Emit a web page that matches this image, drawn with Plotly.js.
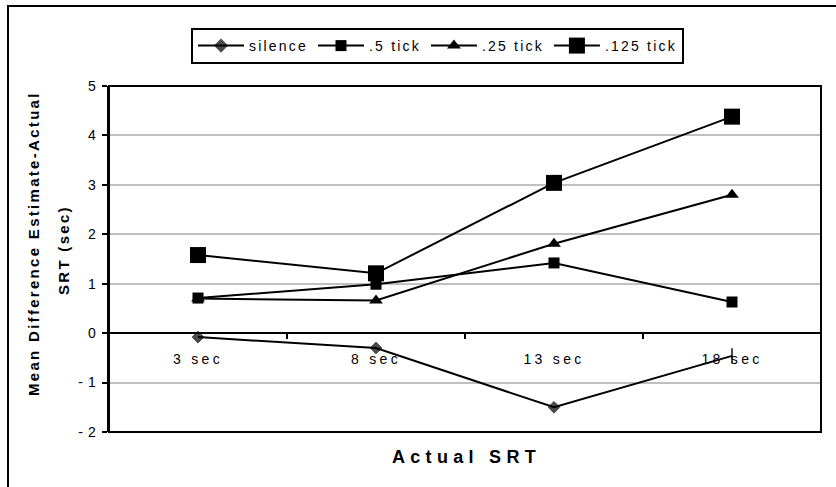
<!DOCTYPE html>
<html>
<head>
<meta charset="utf-8">
<script src="https://cdn.plot.ly/plotly-3.0.1.min.js"></script>
<style>
  html, body { margin: 0; padding: 0; background: #fff; overflow: hidden; }
  #wrap { position: relative; width: 836px; height: 487px; overflow: hidden; }
  #chart { width: 836px; height: 487px; }
  /* chart area border: only its top and left edges fall inside the page */
  #frame { position: absolute; left: 7px; top: 5px; width: 900px; height: 600px;
           border-left: 2px solid #000; border-top: 2px solid #000; pointer-events: none; }
  .xtick text { letter-spacing: 3.3px; }
  .ytick text { letter-spacing: 0.5px; }
  .legendtext { letter-spacing: 2.2px; }
  .annotation-text { letter-spacing: 2.3px; }
  .xtitle-ann .annotation-text { letter-spacing: 5.3px; }
</style>
</head>
<body>
<div id="wrap"><div id="chart"></div><div id="frame"></div></div>
<script>
// Categories along the x axis
const categories = ['3 sec', '8 sec', '13 sec', '18 sec'];

// Mean difference (estimate - actual), seconds
const silence  = [-0.08, -0.30, -1.50, -0.46];
const tick05   = [0.71, 0.99, 1.42, 0.63];
const tick025  = [0.70, 0.66, 1.81, 2.80];
const tick0125 = [1.58, 1.21, 3.04, 4.38];

const seriesNames = ['silence', '.5 tick', '.25 tick', '.125 tick'];

// Y axis ticks
const yRange = [-2, 5];
const yTickVals = [-2, -1, 0, 1, 2, 3, 4, 5];
const yTickText = ['- 2', '- 1', '0', '1', '2', '3', '4', '5'];

const FONT = 'Liberation Sans, Arial, sans-serif';
const lineStyle = { color: '#000', width: 2 };

const traces = [
  {
    x: categories, y: silence, name: seriesNames[0], type: 'scatter', mode: 'lines+markers',
    line: lineStyle,
    marker: { symbol: ['diamond', 'diamond', 'diamond', 'line-ns'], size: [9, 9, 9, 11], color: '#000',
              line: { color: '#000', width: [1, 1, 1, 2] } }
  },
  {
    x: categories, y: tick05, name: seriesNames[1], type: 'scatter', mode: 'lines+markers',
    line: lineStyle,
    marker: { symbol: 'square', size: 11, color: '#000' }
  },
  {
    x: categories, y: tick025, name: seriesNames[2], type: 'scatter', mode: 'lines+markers',
    line: lineStyle,
    marker: { symbol: 'triangle-up', size: 12, color: '#000' }
  },
  {
    x: categories, y: tick0125, name: seriesNames[3], type: 'scatter', mode: 'lines+markers',
    line: lineStyle,
    marker: { symbol: 'square', size: 16, color: '#000' }
  }
];

const plotL = 109, plotR = 821, plotT = 86, plotB = 432;
const W = 836, H = 487;
const pw = plotR - plotL, ph = plotB - plotT;
const px = v => (v - plotL) / pw;          // pixel x -> paper x
const py = v => (plotB - v) / ph;          // pixel y -> paper y

const layout = {
  width: W, height: H,
  margin: { l: plotL, r: W - plotR, t: plotT, b: H - plotB, pad: 0 },
  paper_bgcolor: '#fff', plot_bgcolor: '#fff',
  font: { family: FONT, color: '#000', size: 13 },
  showlegend: true,
  legend: {
    orientation: 'h', x: px(191), y: py(28), xanchor: 'left', yanchor: 'top',
    bgcolor: '#fff', bordercolor: '#000', borderwidth: 2, itemwidth: 46,
    font: { family: FONT, size: 14, color: '#000' }, traceorder: 'normal'
  },
  xaxis: {
    type: 'category', range: [-0.5, 3.5],
    anchor: 'free', position: (0 - yRange[0]) / (yRange[1] - yRange[0]),
    showline: true, linecolor: '#000', linewidth: 2,
    ticks: 'outside', tickson: 'boundaries', ticklen: 5, tickwidth: 2, tickcolor: '#000',
    showgrid: false, zeroline: false, ticklabelstandoff: 13,
    tickfont: { family: FONT, size: 14, color: '#000' }, fixedrange: true
  },
  yaxis: {
    range: yRange, tickmode: 'array', tickvals: yTickVals, ticktext: yTickText,
    showline: true, linecolor: '#000', linewidth: 2,
    ticks: 'outside', ticklen: 5, tickwidth: 2, tickcolor: '#000',
    showgrid: true, gridcolor: '#c0c0c0', gridwidth: 2, zeroline: false,
    ticklabelstandoff: 3,
    tickfont: { family: FONT, size: 14, color: '#000' }, fixedrange: true
  },
  shapes: [
    // plot area frame
    { type: 'rect', xref: 'paper', yref: 'paper', x0: 0, x1: 1, y0: 0, y1: 1,
      line: { color: '#000', width: 2 }, fillcolor: 'rgba(0,0,0,0)' }
  ],
  annotations: [
    { text: 'Actual SRT', xref: 'paper', yref: 'paper', x: px(466), y: py(457),
      xanchor: 'center', yanchor: 'middle', showarrow: false,
      font: { family: FONT, size: 18, weight: 'bold', color: '#000' } },
    { text: 'Mean Difference Estimate-Actual', xref: 'paper', yref: 'paper', x: px(33), y: py(244),
      xanchor: 'center', yanchor: 'middle', textangle: -90, showarrow: false,
      font: { family: FONT, size: 15, weight: 'bold', color: '#000' } },
    { text: 'SRT (sec)', xref: 'paper', yref: 'paper', x: px(63), y: py(250),
      xanchor: 'center', yanchor: 'middle', textangle: -90, showarrow: false,
      font: { family: FONT, size: 15, weight: 'bold', color: '#000' } }
  ]
};

Plotly.newPlot('chart', traces, layout, { displayModeBar: false, staticPlot: true }).then(function (gd) {
  // wider tracking on the x axis title
  const ann = gd.querySelectorAll('.annotation');
  if (ann.length) ann[0].classList.add('xtitle-ann');
});
</script>
</body>
</html>
